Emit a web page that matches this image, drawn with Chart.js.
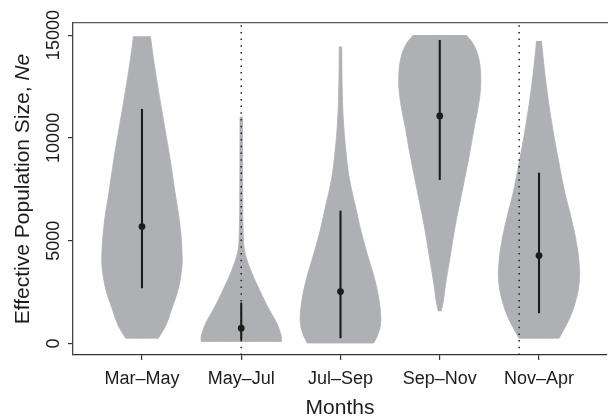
<!DOCTYPE html>
<html>
<head>
<meta charset="utf-8">
<style>
  html, body { margin: 0; padding: 0; background: #ffffff; }
  #wrap { width: 611px; height: 417px; }
</style>
<script src="https://cdn.jsdelivr.net/npm/chart.js@4.4.1/dist/chart.umd.min.js"></script>
</head>
<body>
<div id="wrap"><canvas id="c" width="611" height="417"></canvas></div>
<script>
// Sampling periods along the x axis
const categories = ['Mar–May', 'May–Jul', 'Jul–Sep', 'Sep–Nov', 'Nov–Apr'];
const yTickValues = [0, 5000, 10000, 15000];

// Posterior summaries of Ne per period
const medianNe = [5682, 740, 2520, 11068, 4271];
const lowerNe  = [2685, 170, 253, 7954, 1469];
const upperNe  = [11408, 1985, 6461, 14765, 8309];

// Positions of the dotted reference lines (x units)
const dottedMarks = [2, 4.8];

// Violin outlines: [Ne, half-width in category units], listed top to bottom
const outlineMarMay = [[14950, 0.085], [13875, 0.115], [12250, 0.168], [10630, 0.225], [9010, 0.282],
  [7385, 0.332], [5765, 0.382], [4145, 0.405], [3333, 0.392], [2520, 0.358], [1712, 0.302],
  [900, 0.242], [253, 0.165]];
const outlineMayJul = [[11030, 0.012], [6980, 0.015], [5035, 0.022], [4549, 0.032], [4063, 0.058],
  [3415, 0.108], [2764, 0.168], [2116, 0.232], [1469, 0.302], [983, 0.358], [496, 0.395],
  [250, 0.405], [90, 0.402]];
const outlineJulSep = [[14440, 0.012], [12250, 0.018], [10630, 0.032], [9010, 0.062], [7872, 0.095],
  [6577, 0.155], [5439, 0.208], [4145, 0.282], [3172, 0.342], [2199, 0.385], [1387, 0.405],
  [900, 0.402], [414, 0.375], [20, 0.335]];
const outlineSepNov = [[15000, 0.268], [14522, 0.342], [13875, 0.392], [13063, 0.412], [12250, 0.408],
  [11443, 0.385], [10630, 0.352], [9010, 0.292], [7385, 0.225], [5765, 0.158], [4145, 0.102],
  [2846, 0.058], [2034, 0.035], [1581, 0.015]];
const outlineNovApr = [[14717, 0.025], [13875, 0.042], [12250, 0.082], [10630, 0.132], [9010, 0.192],
  [7385, 0.258], [6091, 0.325], [4953, 0.375], [3819, 0.405], [2846, 0.402], [1873, 0.358],
  [1226, 0.308], [657, 0.248], [253, 0.202]];

const outlines = [outlineMarMay, outlineMayJul, outlineJulSep, outlineSepNov, outlineNovApr];

const Y_MIN = -564, Y_MAX = 15589;
const X_MIN = 0.305, X_MAX = 5.685;
const VIOLIN_GREY = '#afb0b4';
const INK = '#1c1c1c';
const FONT = '"Liberation Sans", Arial, Helvetica, sans-serif';

// Closed outline: right side downwards, then left side upwards.
// End points are doubled so the flat caps stay straight under spline smoothing.
function violinPath(center, outline) {
  const right = outline.map(([v, w]) => ({ x: center + w, y: v }));
  const left = outline.slice().reverse().map(([v, w]) => ({ x: center - w, y: v }));
  const dup = arr => [arr[0], ...arr, arr[arr.length - 1]];
  return [...dup(right), ...dup(left)];
}

const violinSets = outlines.map((o, i) => ({
  data: violinPath(i + 1, o),
  backgroundColor: VIOLIN_GREY,
  borderColor: VIOLIN_GREY,
  borderWidth: 0.8,
  fill: 'shape',
  tension: 0.42,
  pointRadius: 0,
  order: 4
}));

const dottedSets = dottedMarks.map(x => ({
  data: [{ x, y: Y_MIN }, { x, y: Y_MAX }],
  borderColor: '#222222',
  borderWidth: 1.5,
  borderDash: [1.5, 5.2],
  borderCapStyle: 'butt',
  fill: false,
  pointRadius: 0,
  order: 3
}));

const intervalSets = categories.map((_, i) => ({
  data: [{ x: i + 1, y: lowerNe[i] }, { x: i + 1, y: upperNe[i] }],
  borderColor: INK,
  borderWidth: 2.1,
  fill: false,
  pointRadius: 0,
  order: 2
}));

const medianSet = {
  data: medianNe.map((v, i) => ({ x: i + 1, y: v })),
  showLine: false,
  pointRadius: 3.4,
  pointBackgroundColor: INK,
  pointBorderColor: INK,
  pointBorderWidth: 0,
  order: 1
};

// Rotated y tick labels and the y-axis title with italic "Ne"
const yAxisText = {
  id: 'yAxisText',
  afterDraw(chart) {
    const { ctx, chartArea } = chart;
    const yScale = chart.scales.y;
    ctx.save();
    ctx.fillStyle = INK;
    ctx.font = '18px ' + FONT;
    ctx.textAlign = 'center';
    ctx.textBaseline = 'alphabetic';
    yScale.ticks.forEach(t => {
      const py = yScale.getPixelForValue(t.value);
      ctx.save();
      ctx.translate(59, py);
      ctx.rotate(-Math.PI / 2);
      ctx.fillText(String(t.value), 0, 0);
      ctx.restore();
    });

    const parts = [
      { text: 'Effective Population Size, ', font: '21px ' + FONT },
      { text: 'Ne', font: 'italic 21px ' + FONT }
    ];
    let total = 0;
    parts.forEach(p => { ctx.font = p.font; p.w = ctx.measureText(p.text).width; total += p.w; });
    const cy = (chartArea.top + chartArea.bottom) / 2;
    ctx.translate(29, cy);
    ctx.rotate(-Math.PI / 2);
    ctx.textAlign = 'left';
    let x = -total / 2;
    parts.forEach(p => { ctx.font = p.font; ctx.fillText(p.text, x, 0); x += p.w; });
    ctx.restore();
  }
};

new Chart(document.getElementById('c'), {
  type: 'line',
  data: { datasets: [...violinSets, ...dottedSets, ...intervalSets, medianSet] },
  options: {
    responsive: false,
    animation: false,
    devicePixelRatio: 1,
    layout: { padding: 0 },
    plugins: { legend: { display: false }, tooltip: { enabled: false } },
    scales: {
      x: {
        type: 'linear',
        position: 'bottom',
        min: X_MIN,
        max: X_MAX,
        afterBuildTicks: s => { s.ticks = categories.map((_, i) => ({ value: i + 1 })); },
        afterFit: s => { s.height = 62; },
        ticks: {
          callback: v => categories[Math.round(v) - 1],
          autoSkip: false,
          maxRotation: 0,
          padding: 8,
          color: INK,
          font: { family: FONT, size: 18 }
        },
        grid: { display: true, drawOnChartArea: false, drawTicks: true, tickLength: 5, color: '#333333', lineWidth: 1.2 },
        border: { display: true, color: '#333333', width: 1.3 },
        title: {
          display: true,
          text: 'Months',
          color: INK,
          font: { family: FONT, size: 21 },
          padding: { top: 0, bottom: -4 }
        }
      },
      xTop: {
        type: 'linear',
        position: 'top',
        min: X_MIN,
        max: X_MAX,
        afterFit: s => { s.height = 23; },
        ticks: { display: false },
        grid: { display: false },
        border: { display: true, color: '#5a5a5a', width: 1.3 }
      },
      y: {
        type: 'linear',
        position: 'left',
        min: Y_MIN,
        max: Y_MAX,
        afterBuildTicks: s => { s.ticks = yTickValues.map(v => ({ value: v })); },
        afterFit: s => { s.width = 73; },
        ticks: { display: false },
        grid: { display: true, drawOnChartArea: false, drawTicks: true, tickLength: 5, color: '#333333', lineWidth: 1.2 },
        border: { display: true, color: '#444444', width: 1.3 }
      }
    }
  },
  plugins: [yAxisText]
});
</script>
</body>
</html>
